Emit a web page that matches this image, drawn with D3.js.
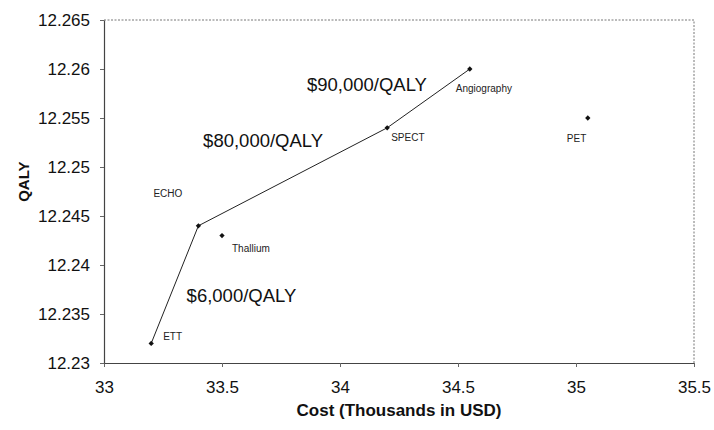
<!DOCTYPE html>
<html>
<head>
<meta charset="utf-8">
<script src="https://cdn.jsdelivr.net/npm/d3@7/dist/d3.min.js"></script>
<style>
  html, body { margin: 0; padding: 0; background: #fff; }
  svg { display: block; font-family: "Liberation Sans", Arial, sans-serif; }
</style>
</head>
<body>
<svg id="chart" width="714" height="430"></svg>
<script>
// Diagnostic strategies: cost (thousands USD) vs. QALY
const strategies = ["ETT", "ECHO", "Thallium", "SPECT", "Angiography", "PET"];
const costs      = [33.20, 33.40, 33.50, 34.20, 34.55, 35.05];
const qalys      = [12.232, 12.244, 12.243, 12.254, 12.260, 12.255];

// Efficient frontier, in order
const frontier = ["ETT", "ECHO", "SPECT", "Angiography"];

// Incremental cost-effectiveness ratios along the frontier segments
const icerLabels = ["$6,000/QALY", "$80,000/QALY", "$90,000/QALY"];

const xTicks = [33, 33.5, 34, 34.5, 35, 35.5];
const yTicks = [12.23, 12.235, 12.24, 12.245, 12.25, 12.255, 12.26, 12.265];

const svg = d3.select("#chart");
const margin = { left: 104, right: 20, top: 20, bottom: 67 };
const W = 714, H = 430;

const x = d3.scaleLinear().domain([33, 35.5]).range([margin.left, W - margin.right]);
const y = d3.scaleLinear().domain([12.23, 12.265]).range([H - margin.bottom, margin.top]);

const points = strategies.map((s, i) => ({ name: s, cost: costs[i], qaly: qalys[i] }));
const byName = Object.fromEntries(points.map(p => [p.name, p]));

// Plot frame: dotted top and right edges
svg.append("path")
  .attr("d", `M${x(33)},${y(12.265)}H${x(35.5)}V${y(12.23)}`)
  .attr("fill", "none")
  .attr("stroke", "#777")
  .attr("stroke-width", 1)
  .attr("stroke-dasharray", "2,1.5");

// Axes
const xAxis = d3.axisBottom(x).tickValues(xTicks).tickFormat(d3.format("")).tickSize(4).tickSizeOuter(0);
const yAxis = d3.axisLeft(y).tickValues(yTicks).tickFormat(d3.format("")).tickSize(4).tickSizeOuter(0);

const gx = svg.append("g").attr("transform", `translate(0,${y(12.23)})`).call(xAxis);
const gy = svg.append("g").attr("transform", `translate(${x(33)},0)`).call(yAxis);

[gx, gy].forEach(g => {
  g.select(".domain").attr("stroke", "#444").attr("stroke-width", 1.2);
  g.selectAll(".tick line").attr("stroke", "#666");
  g.selectAll(".tick text").attr("fill", "#111").style("font-size", "17px");
});
gx.selectAll(".tick text").attr("dy", 0).attr("y", 30);
gy.selectAll(".tick text").attr("x", -14);

// Axis titles
svg.append("text")
  .attr("x", x(34.25))
  .attr("y", 416)
  .attr("text-anchor", "middle")
  .style("font-size", "17px")
  .style("font-weight", "bold")
  .attr("fill", "#111")
  .text("Cost (Thousands in USD)");

svg.append("text")
  .attr("transform", `translate(29,${y(12.2485)}) rotate(-90)`)
  .attr("text-anchor", "middle")
  .style("font-size", "15px")
  .style("font-weight", "bold")
  .attr("fill", "#111")
  .text("QALY");

// Frontier line
const line = d3.line().x(d => x(d.cost)).y(d => y(d.qaly));
svg.append("path")
  .datum(frontier.map(n => byName[n]))
  .attr("d", line)
  .attr("fill", "none")
  .attr("stroke", "#222")
  .attr("stroke-width", 1);

// Diamond markers
svg.selectAll(".pt")
  .data(points)
  .join("path")
  .attr("class", "pt")
  .attr("transform", d => `translate(${x(d.cost)},${y(d.qaly)}) rotate(45)`)
  .attr("d", d3.symbol(d3.symbolSquare, 14))
  .attr("fill", "#111");

// Point labels (pixel offsets from each marker)
const labelOffset = {
  "ETT":         [12, -3],
  "ECHO":        [-45, -29],
  "Thallium":    [10, 16],
  "SPECT":       [4, 13],
  "Angiography": [-14, 23],
  "PET":         [-21, 24]
};
svg.selectAll(".lbl")
  .data(points)
  .join("text")
  .attr("class", "lbl")
  .attr("x", d => x(d.cost) + labelOffset[d.name][0])
  .attr("y", d => y(d.qaly) + labelOffset[d.name][1])
  .style("font-size", "10px")
  .attr("fill", "#222")
  .text(d => d.name);

// ICER annotations, anchored in data space
const icerAnchor = [[33.35, 12.2362], [33.42, 12.2520], [33.86, 12.2578]];
svg.selectAll(".icer")
  .data(icerLabels)
  .join("text")
  .attr("class", "icer")
  .attr("x", (d, i) => x(icerAnchor[i][0]))
  .attr("y", (d, i) => y(icerAnchor[i][1]))
  .style("font-size", "18.5px")
  .attr("fill", "#111")
  .text(d => d);
</script>
</body>
</html>
